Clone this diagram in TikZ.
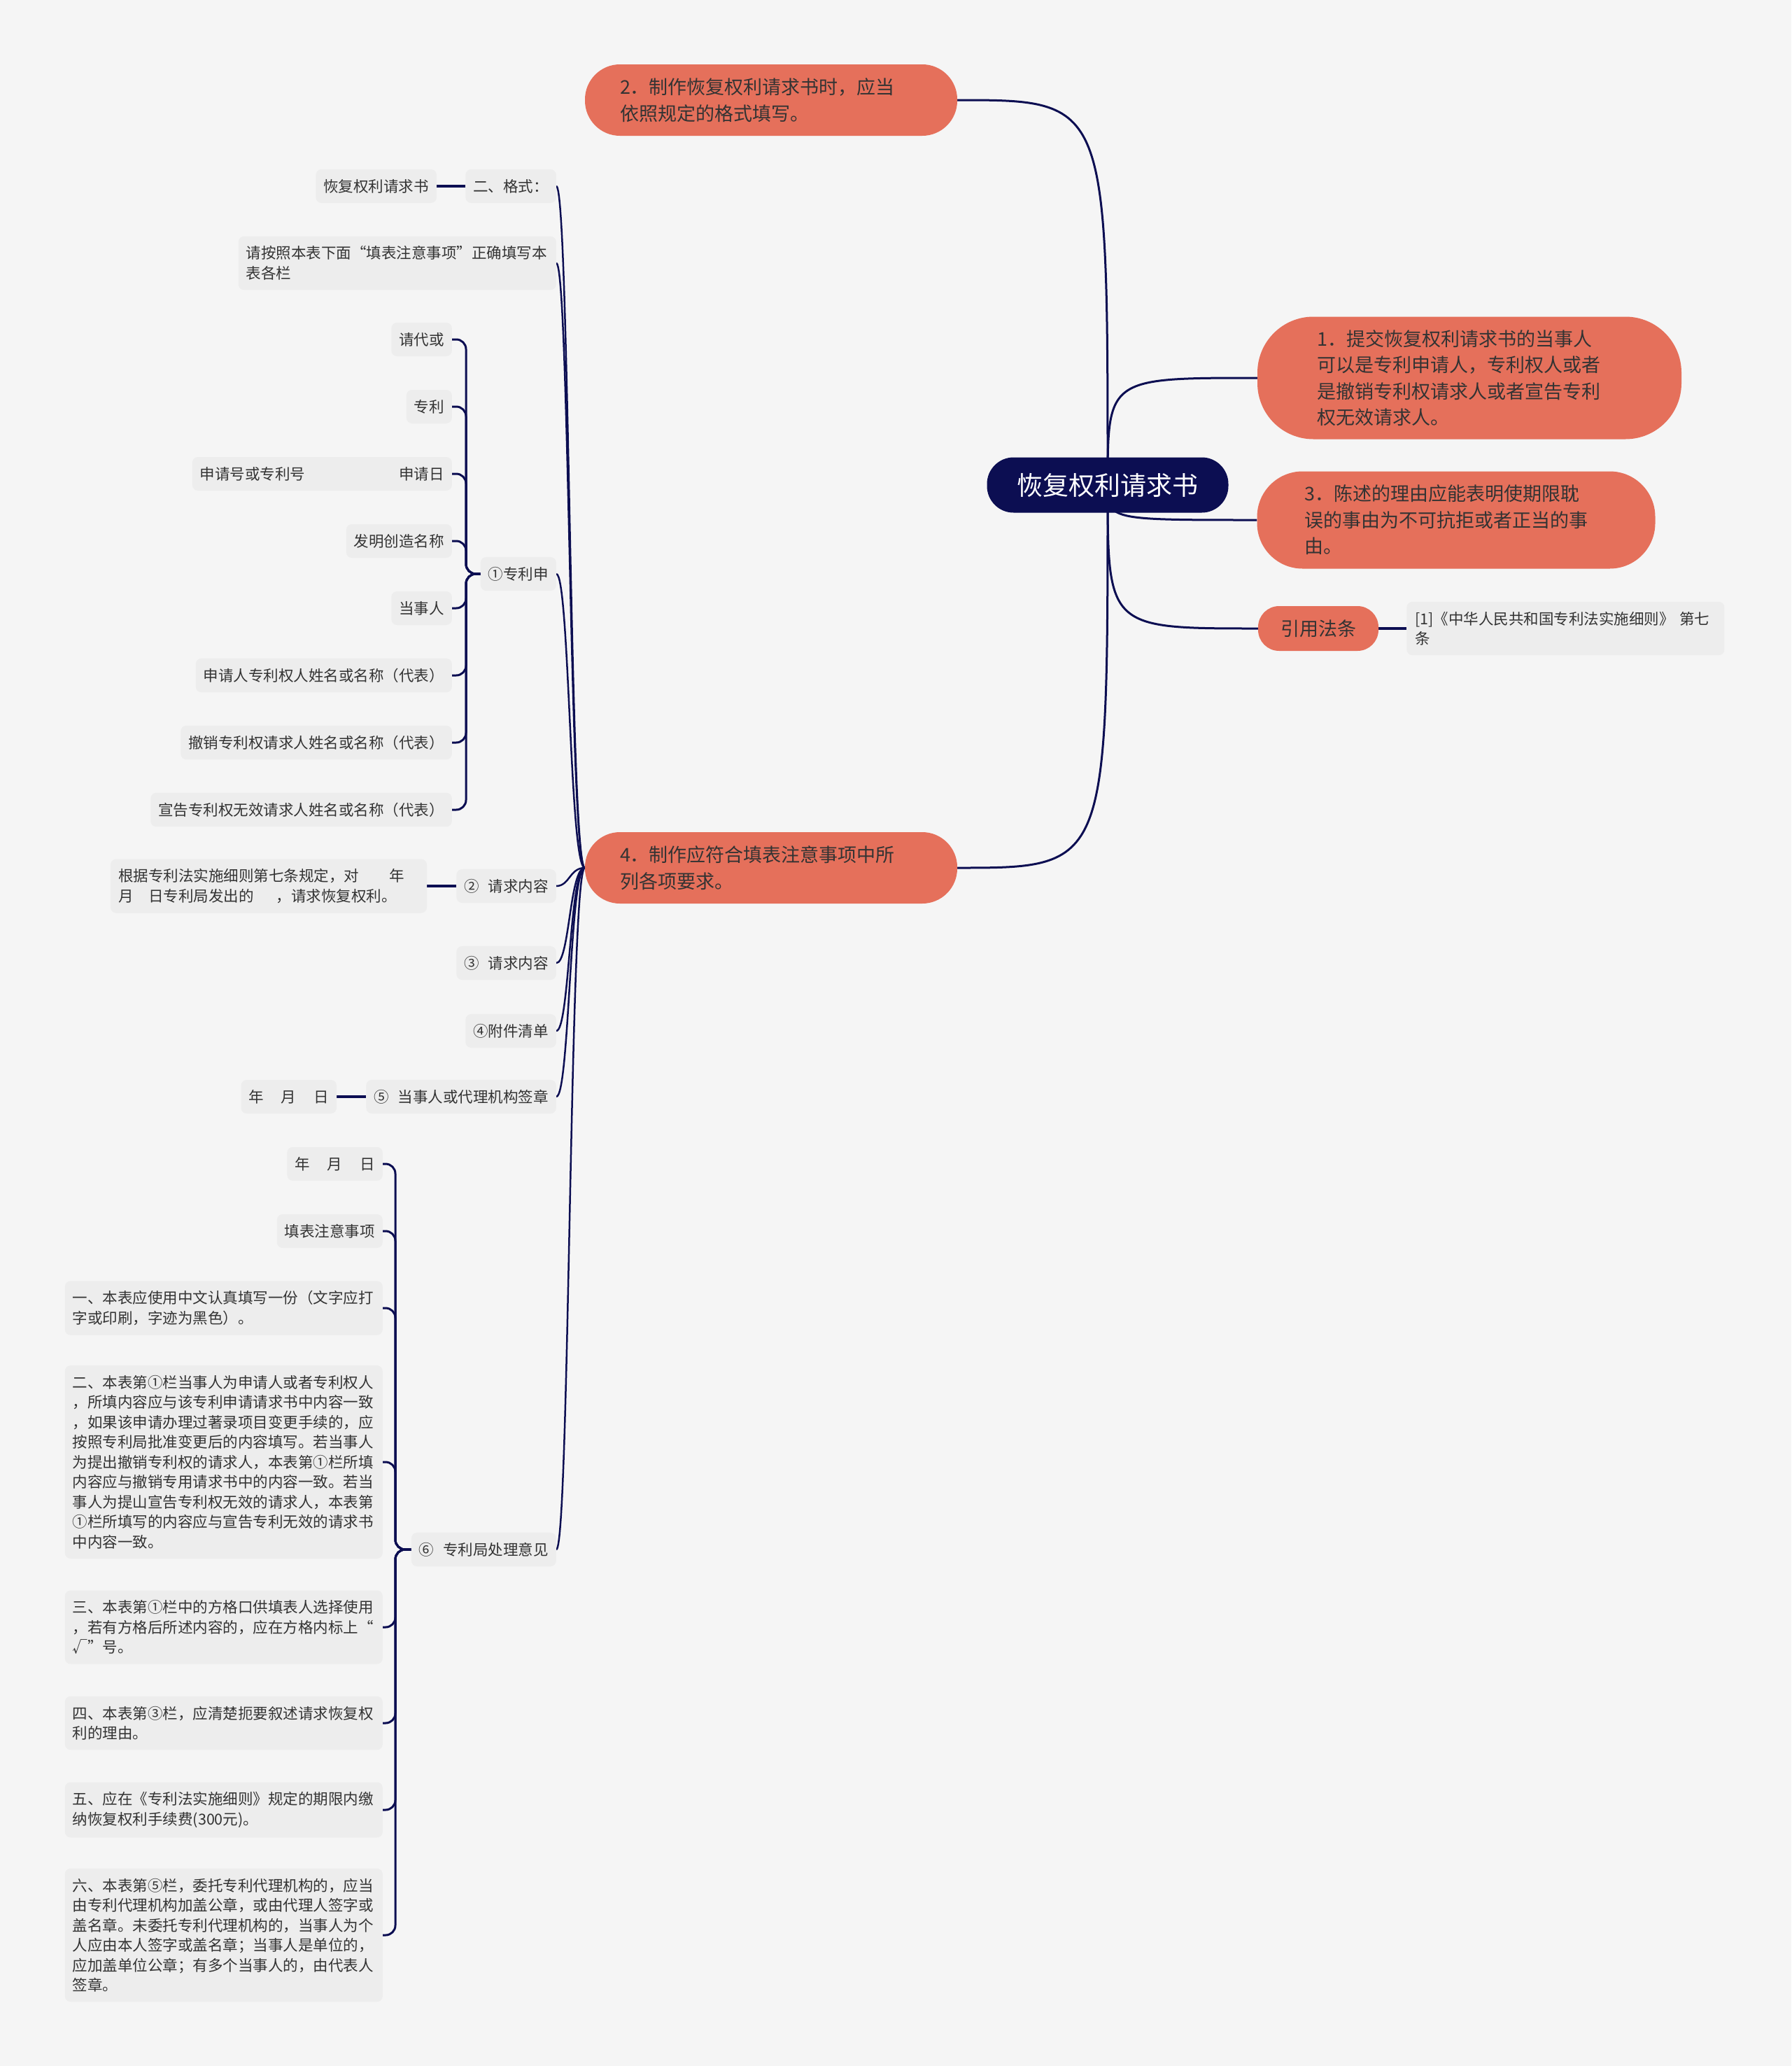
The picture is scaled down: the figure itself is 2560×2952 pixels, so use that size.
\documentclass[tikz,border=0pt]{standalone}
\usepackage{fontspec}
\setmainfont{Noto Sans CJK SC}
\usetikzlibrary{positioning}

\definecolor{pagebg}{HTML}{F5F5F5}
\definecolor{leafbg}{HTML}{EDEDED}
\definecolor{navy}{HTML}{0C0E52}
\definecolor{coral}{HTML}{E5705B}
\definecolor{ink}{HTML}{333333}

\pgfdeclarelayer{back}
\pgfsetlayers{back,main}

\begin{document}
\begin{tikzpicture}[
    x=1pt, y=-1pt,
    node distance=42pt,
    mainbox/.style={
        fill=navy,
        text=white,
        rounded corners=38pt,
        minimum width=345pt,
        minimum height=79pt,
        font=\fontsize{37}{44}\selectfont
    },
    topic/.style={
        fill=coral,
        text=ink,
        align=left,
        rounded corners=50pt,
        inner ysep=18pt,
        font=\fontsize{27}{37.5}\selectfont
    },
    leaf/.style={
        fill=leafbg,
        text=ink,
        align=left,
        rounded corners=8pt,
        inner xsep=11pt,
        inner ysep=14pt,
        minimum height=48pt,
        font=\fontsize{21.5}{28.5}\selectfont
    },
    note/.style={leaf, text width=432pt},
    limb/.style={draw=navy, line width=3pt},
    vine/.style={draw=navy, line width=2.5pt},
    twig/.style={draw=navy, line width=3pt, rounded corners=14pt},
    stub/.style={draw=navy, line width=4pt}
]

\useasboundingbox (0,0) rectangle (2560,2952);

\coordinate (spine) at (814,0);
\coordinate (fork1) at (666,0);
\coordinate (fork6) at (565,0);

% centre and main topics
\node[mainbox] (root) at (1583,693) {恢复权利请求书};
\node[topic, text width=432pt, inner xsep=50pt, minimum height=102pt] (make) at (1102,143)
    {2．制作恢复权利请求书时，应当\\依照规定的格式填写。};
\node[topic, text width=436pt, inner xsep=85pt, minimum height=175pt, rounded corners=80pt] (party) at (2100,540)
    {1．提交恢复权利请求书的当事人\\可以是专利申请人，专利权人或者\\是撤销专利权请求人或者宣告专利\\权无效请求人。};
\node[topic, text width=433pt, inner xsep=68pt, minimum height=139pt, rounded corners=65pt] (reason) at (2081,743)
    {3．陈述的理由应能表明使期限耽\\误的事由为不可抗拒或者正当的事\\由。};
\node[topic, inner xsep=32pt, minimum height=64pt, rounded corners=30pt] (law) at (1884,898) {引用法条};
\node[leaf, text width=430pt, inner xsep=12pt, right=40pt of law] (lawref)
    {[1]《中华人民共和国专利法实施细则》 第七\\条};
\node[topic, text width=432pt, inner xsep=50pt, minimum height=102pt] (rules) at (1102,1240)
    {4．制作应符合填表注意事项中所\\列各项要求。};

% form columns
\node[leaf, anchor=east] (fmt) at (795,266) {二、格式：};
\node[leaf, left=41pt of fmt] (fmttitle) {恢复权利请求书};
\node[note, anchor=east] (guide) at (795,376) {请按照本表下面“填表注意事项”正确填写本\\表各栏};
\node[leaf, anchor=east] (col1) at (795,820) {①专利申};
\node[leaf, anchor=east] (col2) at (795,1266) {②\hspace{0.6em}请求内容};
\node[leaf, text width=430pt, left=42pt of col2] (col2text)
    {根据专利法实施细则第七条规定，对\hspace{2em}年\\月\hspace{1em}日专利局发出的\hspace{1.5em}，请求恢复权利。};
\node[leaf, anchor=east] (col3) at (795,1376) {③\hspace{0.6em}请求内容};
\node[leaf, anchor=east] (col4) at (795,1473) {④附件清单};
\node[leaf, anchor=east] (col5) at (795,1567) {⑤\hspace{0.6em}当事人或代理机构签章};
\node[leaf, left=42pt of col5] (col5date) {年\hspace{25pt}月\hspace{25pt}日};
\node[leaf, anchor=east] (col6) at (795,2214) {⑥\hspace{0.6em}专利局处理意见};

% column 1 fields
\node[leaf, anchor=east] (proxy) at (646,485) {请代或};
\node[leaf, anchor=east] (patent) at (646,581) {专利};
\node[leaf, anchor=east] (appno) at (646,677) {申请号或专利号\hspace{134pt}申请日};
\node[leaf, anchor=east] (invention) at (646,773) {发明创造名称};
\node[leaf, anchor=east] (person) at (646,869) {当事人};
\node[leaf, anchor=east] (holder) at (646,965) {申请人专利权人姓名或名称（代表）};
\node[leaf, anchor=east] (revoker) at (646,1061) {撤销专利权请求人姓名或名称（代表）};
\node[leaf, anchor=east] (invalid) at (646,1157) {宣告专利权无效请求人姓名或名称（代表）};

% column 6 notes
\node[leaf, anchor=east] (date6) at (547,1663) {年\hspace{25pt}月\hspace{25pt}日};
\node[leaf, anchor=east] (notes) at (547,1759) {填表注意事项};
\node[note, anchor=east] (rule1) at (547,1869)
    {一、本表应使用中文认真填写一份（文字应打\\字或印刷，字迹为黑色）。};
\node[note, anchor=east] (rule2) at (547,2089)
    {二、本表第①栏当事人为申请人或者专利权人\\，所填内容应与该专利申请请求书中内容一致\\，如果该申请办理过著录项目变更手续的，应\\按照专利局批准变更后的内容填写。若当事人\\为提出撤销专利权的请求人，本表第①栏所填\\内容应与撤销专用请求书中的内容一致。若当\\事人为提山宣告专利权无效的请求人，本表第\\①栏所填写的内容应与宣告专利无效的请求书\\中内容一致。};
\node[note, anchor=east] (rule3) at (547,2325)
    {三、本表第①栏中的方格口供填表人选择使用\\，若有方格后所述内容的，应在方格内标上“\\√”号。};
\node[note, anchor=east] (rule4) at (547,2462)
    {四、本表第③栏，应清楚扼要叙述请求恢复权\\利的理由。};
\node[note, anchor=east] (rule5) at (547,2586)
    {五、应在《专利法实施细则》规定的期限内缴\\纳恢复权利手续费(300元)。};
\node[note, anchor=east] (rule6) at (547,2765)
    {六、本表第⑤栏，委托专利代理机构的，应当\\由专利代理机构加盖公章，或由代理人签字或\\盖名章。未委托专利代理机构的，当事人为个\\人应由本人签字或盖名章；当事人是单位的，\\应加盖单位公章；有多个当事人的，由代表人\\签章。};

\begin{pgfonlayer}{back}
\fill[pagebg] (0,0) rectangle (2560,2952);

% centre to topics
\draw[limb] (root.center) .. controls (root.center |- make.east) .. (make.east);
\draw[limb] (root.center) .. controls (root.center |- party.west) .. (party.west);
\draw[limb] (root.center) .. controls (root.center |- reason.west) .. (reason.west);
\draw[limb] (root.center) .. controls (root.center |- law.west) .. (law.west);
\draw[limb] (root.center) .. controls (root.center |- rules.east) .. (rules.east);

% topic 4 to form columns
\draw[vine] (rules.west) .. controls (spine |- rules.west) and (spine |- fmt.east) .. (fmt.east);
\draw[vine] (rules.west) .. controls (spine |- rules.west) and (spine |- guide.east) .. (guide.east);
\draw[vine] (rules.west) .. controls (spine |- rules.west) and (spine |- col1.east) .. (col1.east);
\draw[vine] (rules.west) .. controls (spine |- rules.west) and (spine |- col2.east) .. (col2.east);
\draw[vine] (rules.west) .. controls (spine |- rules.west) and (spine |- col3.east) .. (col3.east);
\draw[vine] (rules.west) .. controls (spine |- rules.west) and (spine |- col4.east) .. (col4.east);
\draw[vine] (rules.west) .. controls (spine |- rules.west) and (spine |- col5.east) .. (col5.east);
\draw[vine] (rules.west) .. controls (spine |- rules.west) and (spine |- col6.east) .. (col6.east);

% column 1 bracket
\draw[twig] (col1.west) -- (fork1 |- col1.west) |- (proxy.east);
\draw[twig] (col1.west) -- (fork1 |- col1.west) |- (patent.east);
\draw[twig] (col1.west) -- (fork1 |- col1.west) |- (appno.east);
\draw[twig] (col1.west) -- (fork1 |- col1.west) |- (invention.east);
\draw[twig] (col1.west) -- (fork1 |- col1.west) |- (person.east);
\draw[twig] (col1.west) -- (fork1 |- col1.west) |- (holder.east);
\draw[twig] (col1.west) -- (fork1 |- col1.west) |- (revoker.east);
\draw[twig] (col1.west) -- (fork1 |- col1.west) |- (invalid.east);

% column 6 bracket
\draw[twig] (col6.west) -- (fork6 |- col6.west) |- (date6.east);
\draw[twig] (col6.west) -- (fork6 |- col6.west) |- (notes.east);
\draw[twig] (col6.west) -- (fork6 |- col6.west) |- (rule1.east);
\draw[twig] (col6.west) -- (fork6 |- col6.west) |- (rule2.east);
\draw[twig] (col6.west) -- (fork6 |- col6.west) |- (rule3.east);
\draw[twig] (col6.west) -- (fork6 |- col6.west) |- (rule4.east);
\draw[twig] (col6.west) -- (fork6 |- col6.west) |- (rule5.east);
\draw[twig] (col6.west) -- (fork6 |- col6.west) |- (rule6.east);

% single links
\draw[stub] (fmttitle.east) -- (fmt.west);
\draw[stub] (col2text.east) -- (col2.west);
\draw[stub] (col5date.east) -- (col5.west);
\draw[stub] (law.east) -- (lawref.west);
\end{pgfonlayer}

\end{tikzpicture}
\end{document}
